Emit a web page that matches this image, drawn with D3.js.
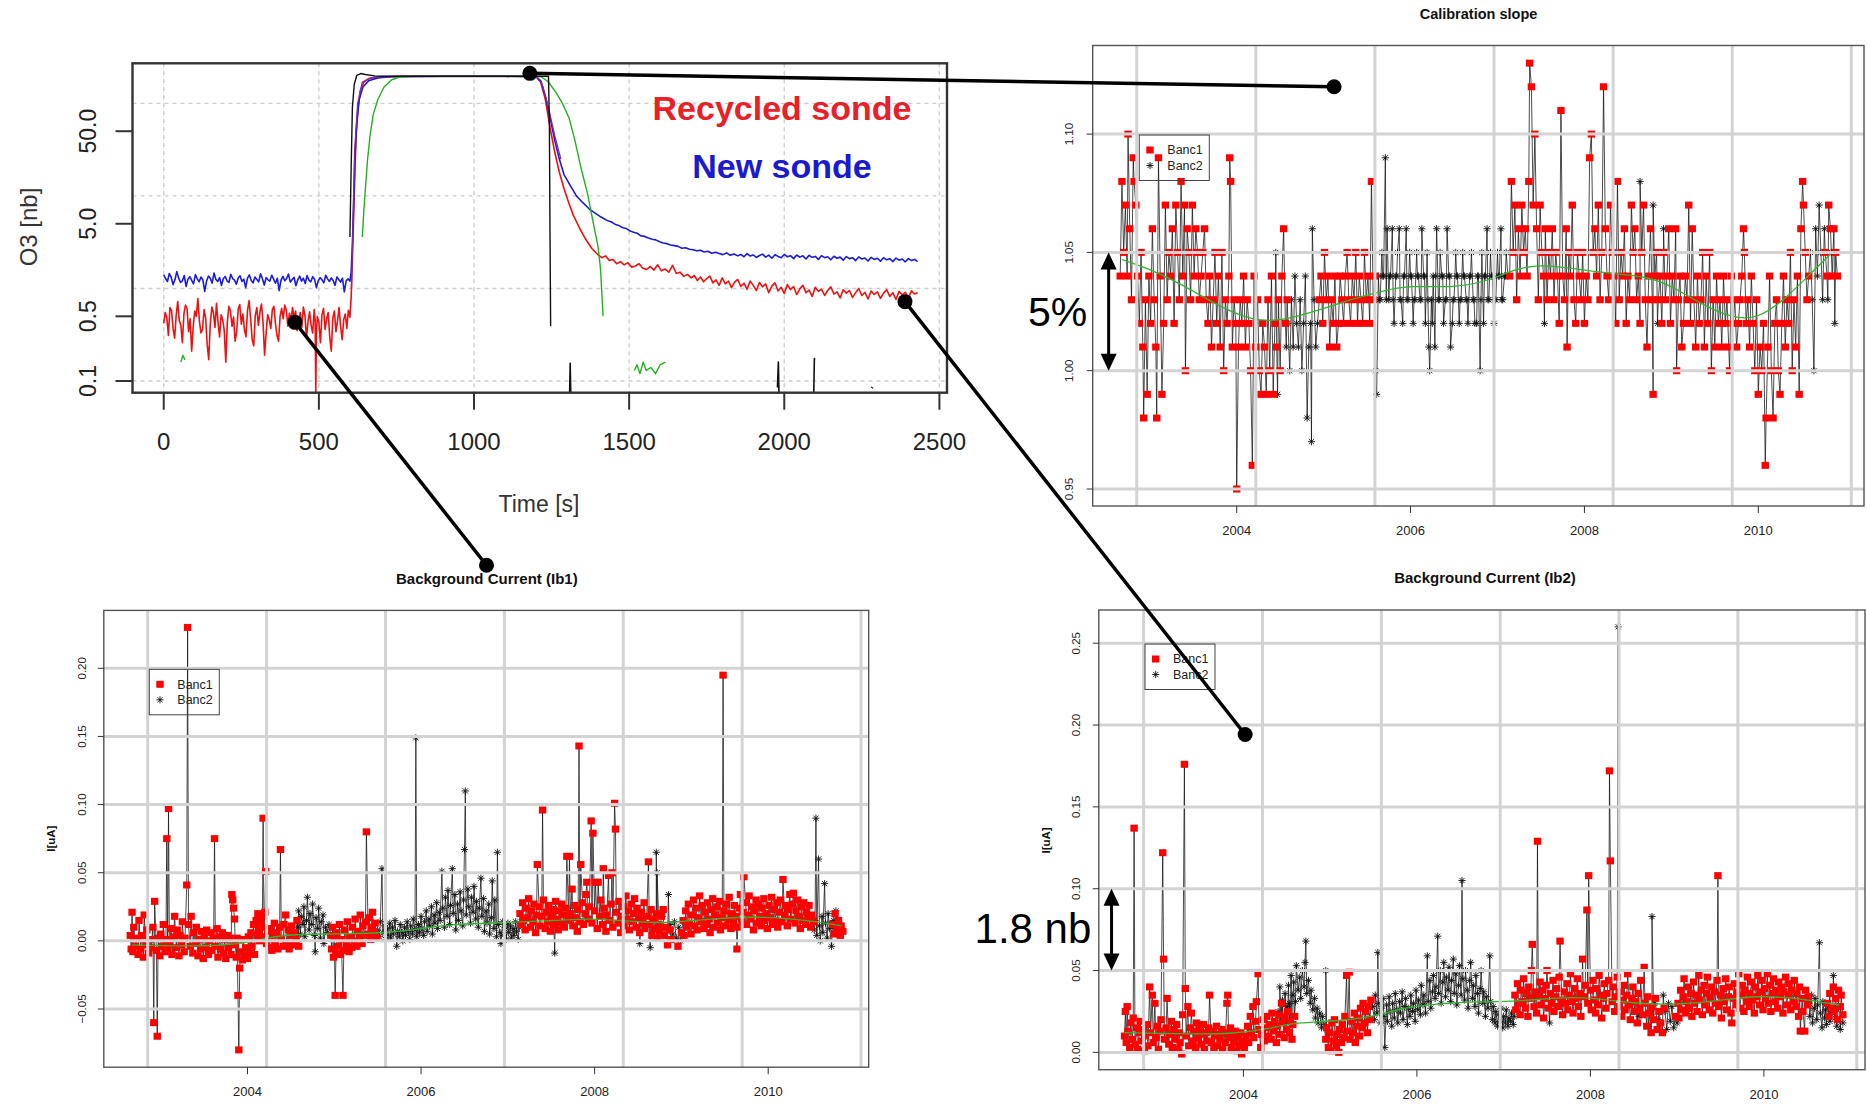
<!DOCTYPE html>
<html><head><meta charset="utf-8">
<script src="https://cdnjs.cloudflare.com/ajax/libs/d3/7.8.5/d3.min.js"></script>
<style>
body{margin:0;background:#fff}
svg{display:block}
text{font-family:"Liberation Sans",Arial,sans-serif}
</style></head>
<body><svg id="c" width="1867" height="1113"></svg>
<script>
// ---------------- DATA ----------------
// Top-left: ozone response test, time [s] vs O3 [nb]
const timeTicks = [0, 500, 1000, 1500, 2000, 2500];
const timeTickLabels = ["0", "500", "1000", "1500", "2000", "2500"];
const o3Ticks = [0.1, 0.5, 5, 50];
const o3TickLabels = ["0.1", "0.5", "5.0", "50.0"];
const o3Grid = [0.1, 1, 10, 100];

const recycledSonde = [
[0,0.42],[5,0.55],[10,0.48],[15,0.31],[20,0.62],[25,0.58],[30,0.37],[35,0.29],[40,0.51],[45,0.72],[50,0.45],[55,0.40],
[60,0.26],[65,0.53],[70,0.66],[75,0.61],[80,0.34],[85,0.47],[90,0.21],[95,0.39],[100,0.57],[105,0.50],[110,0.78],[115,0.44],
[120,0.33],[125,0.36],[130,0.59],[135,0.48],[140,0.25],[145,0.17],[150,0.41],[155,0.63],[160,0.55],[165,0.38],[170,0.69],
[175,0.43],[180,0.30],[185,0.52],[190,0.46],[195,0.35],[200,0.16],[205,0.44],[210,0.64],[215,0.57],[220,0.39],[225,0.49],
[230,0.27],[235,0.34],[240,0.60],[245,0.67],[250,0.41],[255,0.53],[260,0.36],[265,0.30],[270,0.58],[275,0.74],[280,0.47],
[285,0.28],[290,0.24],[295,0.51],[300,0.62],[305,0.40],[310,0.55],[315,0.68],[320,0.43],[325,0.19],[330,0.33],[335,0.52],
[340,0.46],[345,0.37],[350,0.59],[355,0.64],[360,0.42],[365,0.31],[370,0.27],[375,0.50],[380,0.61],[385,0.47],[390,0.66],
[395,0.58],[400,0.39],[405,0.54],[410,0.45],[415,0.62],[420,0.49],[425,0.57],[430,0.35],[435,0.42],[440,0.55],[445,0.38],
[450,0.63],[455,0.51],[460,0.29],[465,0.44],[470,0.56],[475,0.40],[480,0.33],[485,0.59],[488,0.45],[490,0.07],[492,0.32],
[495,0.50],[500,0.43],[505,0.26],[510,0.52],[515,0.61],[520,0.36],[525,0.47],[530,0.55],[535,0.30],[540,0.21],[545,0.48],
[550,0.57],[555,0.34],[560,0.44],[565,0.62],[570,0.39],[575,0.28],[580,0.46],[585,0.53],[590,0.37],[595,0.58],[600,0.49],
[604,0.8],[608,2.0],[612,6.0],[616,18],[620,45],[626,90],[634,140],[645,170],[660,185],[690,192],[760,196],[900,196],
[1100,196],[1200,195],[1215,170],[1230,110],[1245,55],[1260,30],[1275,18],[1290,12],[1305,8.5],[1320,6.2],[1340,4.5],
[1360,3.4],[1380,2.7],[1400,2.3],[1412,2.15],[1424,2.25],[1436,2.0],[1448,2.05],[1460,1.85],[1472,1.95],[1484,1.8],
[1496,1.9],[1508,1.7],[1520,1.75],[1532,1.85],[1544,1.65],[1556,1.6],[1568,1.72],[1580,1.58],[1592,1.8],[1604,1.55],
[1616,1.62],[1628,1.5],[1640,1.78],[1652,1.45],[1664,1.5],[1676,1.35],[1688,1.42],[1700,1.3],[1710,1.38],[1720,1.22],
[1730,1.33],[1740,1.18],[1750,1.28],[1760,1.36],[1770,1.15],[1780,1.24],[1790,1.08],[1800,1.3],[1810,1.12],[1820,1.2],
[1830,1.02],[1840,1.17],[1850,1.25],[1860,1.05],[1870,1.14],[1880,0.98],[1890,1.2],[1900,1.08],[1910,0.95],[1920,1.16],
[1930,1.04],[1940,1.12],[1950,0.9],[1960,1.06],[1970,1.15],[1980,0.94],[1990,1.03],[2000,0.88],[2010,1.1],[2020,0.97],
[2030,1.05],[2040,0.86],[2050,0.99],[2060,1.08],[2070,0.9],[2080,0.96],[2090,0.82],[2100,1.03],[2110,0.93],[2120,0.98],
[2130,0.84],[2140,0.95],[2150,1.04],[2160,0.87],[2170,0.92],[2180,0.79],[2190,0.97],[2200,0.89],[2210,0.95],[2220,0.8],
[2230,0.9],[2240,1.0],[2250,0.84],[2260,0.91],[2270,0.77],[2280,0.94],[2290,0.86],[2300,0.92],[2310,0.78],[2320,0.89],
[2330,0.97],[2340,0.82],[2350,0.9],[2360,0.76],[2370,0.93],[2380,0.85],[2390,0.91],[2400,0.79],[2410,0.94],[2420,0.87],[2430,0.9]];

const newSonde = [
[0,1.40],[6,1.28],[12,1.19],[18,1.45],[24,1.32],[30,1.10],[36,1.24],[42,1.52],[48,1.30],[54,1.16],[60,1.21],[66,1.38],
[72,1.05],[78,1.26],[84,1.34],[90,1.22],[96,1.12],[102,1.41],[108,1.27],[114,1.18],[120,1.33],[126,1.24],[132,0.93],
[138,1.20],[144,1.36],[150,1.29],[156,1.14],[162,1.47],[168,1.25],[174,1.19],[180,1.31],[186,1.08],[192,1.27],[198,1.35],
[204,1.21],[210,1.16],[216,1.42],[222,1.28],[228,1.23],[234,1.11],[240,1.30],[246,1.37],[252,1.19],[258,1.26],[264,1.02],
[270,1.29],[276,1.40],[282,1.22],[288,1.15],[294,1.33],[300,1.25],[306,1.18],[312,1.44],[318,1.27],[324,1.09],[330,1.31],
[336,1.24],[342,1.20],[348,1.39],[354,1.26],[360,1.14],[366,1.29],[372,0.95],[378,1.23],[384,1.35],[390,1.21],[396,1.28],
[402,1.43],[408,1.17],[414,1.25],[420,1.32],[426,1.07],[432,1.24],[438,1.36],[444,1.20],[450,1.29],[456,1.13],[462,1.38],
[468,1.23],[474,1.18],[480,1.34],[486,1.26],[492,1.02],[498,1.21],[504,1.31],[510,1.24],[516,1.15],[522,1.39],[528,1.27],
[534,1.19],[540,1.30],[546,1.22],[552,1.08],[558,1.33],[564,1.25],[570,1.17],[576,1.29],[582,0.92],[588,1.21],[594,1.27],
[600,1.20],[604,1.5],[608,3.0],[612,8.0],[616,25],[622,60],[630,110],[642,150],[660,175],[690,188],[730,194],[900,196],
[1100,196],[1200,195],[1215,175],[1230,120],[1245,70],[1260,40],[1275,25],[1290,17],[1310,13],[1330,10],[1350,8.5],
[1370,7.3],[1382,6.8],[1394,6.4],[1406,6.0],[1418,5.7],[1430,5.4],[1442,5.25],[1454,4.95],[1466,4.8],[1478,4.55],
[1490,4.45],[1502,4.2],[1514,4.05],[1526,3.95],[1538,3.7],[1550,3.65],[1562,3.5],[1574,3.4],[1586,3.35],[1598,3.2],
[1610,3.1],[1622,3.05],[1634,2.95],[1646,2.9],[1658,2.85],[1670,2.72],[1682,2.75],[1694,2.65],[1706,2.62],[1718,2.55],
[1730,2.58],[1742,2.48],[1754,2.52],[1766,2.4],[1778,2.46],[1790,2.38],[1802,2.32],[1814,2.42],[1826,2.28],[1838,2.36],
[1850,2.25],[1860,2.33],[1870,2.2],[1880,2.38],[1890,2.24],[1900,2.3],[1910,2.16],[1920,2.27],[1930,2.35],[1940,2.18],
[1950,2.29],[1960,2.12],[1970,2.31],[1980,2.22],[1990,2.15],[2000,2.33],[2010,2.2],[2020,2.26],[2030,2.1],[2040,2.3],
[2050,2.18],[2060,2.25],[2070,2.08],[2080,2.28],[2090,2.17],[2100,2.22],[2110,2.06],[2120,2.26],[2130,2.15],[2140,2.2],
[2150,2.04],[2160,2.23],[2170,2.12],[2180,2.18],[2190,2.02],[2200,2.21],[2210,2.1],[2220,2.15],[2230,2.0],[2240,2.19],
[2250,2.08],[2260,2.13],[2270,1.98],[2280,2.17],[2290,2.06],[2300,2.12],[2310,1.97],[2320,2.15],[2330,2.04],[2340,2.1],
[2350,1.95],[2360,2.13],[2370,2.02],[2380,2.08],[2390,1.94],[2400,2.1],[2410,2.0],[2420,2.06],[2430,1.95]];

const purpleRun = [[605,1.0],[610,5],[615,30],[625,100],[640,170],[670,190],[700,195],[1200,195],[1220,160],[1240,90],[1260,45],[1280,25]];
const greenRun = [[640,3.6],[645,7],[650,12],[657,25],[665,45],[675,75],[690,110],[710,150],[735,180],[760,192],[800,196],
[1100,196],[1215,195],[1240,170],[1265,130],[1285,100],[1306,70],[1325,40],[1345,20],[1366,10.5],[1385,5],[1400,2.8],[1408,1.6],[1416,0.5]];
const greenBits = [
  [[55,0.16],[62,0.19],[68,0.17]],
  [[1517,0.13],[1525,0.15],[1535,0.12],[1545,0.16],[1555,0.13],[1570,0.14],[1585,0.12],[1600,0.15],[1617,0.16]]
];
const blackRun = [[600,3.6],[604,20],[608,90],[614,160],[622,200],[635,210],[650,205],[680,198],[720,196],[1240,196],[1243,60],[1245,3.6],[1247,0.39]];
const blackBits = [
  [[1308,0.07],[1310,0.155],[1312,0.07]],
  [[1978,0.085],[1981,0.16],[1983,0.07]],
  [[2095,0.07],[2097,0.175],[2099,0.17]],
  [[2282,0.084],[2284,0.086]]
];

// Shared time axis for the three station plots
const yearTicks = [2004, 2006, 2008, 2010];
const yearTickLabels = ["2004", "2006", "2008", "2010"];
const gridYears = [2002.85, 2004.22, 2005.59, 2006.96, 2008.33, 2009.70, 2011.07];

// Calibration slope
const calibTicks = [0.95, 1.00, 1.05, 1.10];
const calibTickLabels = ["0.95", "1.00", "1.05", "1.10"];
const calibBanc1 = [
[2002.66,1.04],[2002.68,1.08],[2002.70,1.05],[2002.72,1.07],[2002.74,1.04],[2002.75,1.10],[2002.77,1.06],[2002.79,1.03],
[2002.81,1.09],[2002.82,1.08],[2002.84,1.07],[2002.86,1.04],[2002.88,1.02],[2002.90,1.05],[2002.92,1.01],[2002.93,0.98],
[2002.95,1.03],[2002.97,0.99],[2002.99,1.04],[2003.01,1.02],[2003.03,1.06],[2003.05,1.03],[2003.07,1.01],[2003.08,0.98],
[2003.10,1.09],[2003.12,1.04],[2003.14,0.99],[2003.16,1.02],[2003.18,1.07],[2003.20,1.03],[2003.22,1.05],[2003.24,1.04],
[2003.26,1.06],[2003.28,1.02],[2003.30,1.07],[2003.32,1.05],[2003.34,1.03],[2003.36,1.08],[2003.38,1.04],[2003.40,1.07],
[2003.41,1.00],[2003.43,1.06],[2003.45,1.05],[2003.47,1.03],[2003.49,1.07],[2003.51,1.04],[2003.53,1.06],[2003.55,1.05],
[2003.57,1.03],[2003.59,1.04],[2003.61,1.05],[2003.63,1.06],[2003.65,1.03],[2003.67,1.02],[2003.69,1.04],[2003.71,1.01],
[2003.73,1.03],[2003.75,1.05],[2003.77,1.02],[2003.79,1.04],[2003.81,1.01],[2003.83,1.05],[2003.85,1.00],[2003.87,1.03],
[2003.89,1.02],[2003.91,1.04],[2003.92,1.09],[2003.93,1.08],[2003.95,1.01],[2003.97,1.03],[2003.99,1.02],[2004.00,0.95],
[2004.02,1.01],[2004.04,1.03],[2004.06,1.02],[2004.08,1.04],[2004.10,1.01],[2004.12,1.03],[2004.14,1.02],[2004.16,1.00],
[2004.18,0.96],[2004.20,1.04],[2004.22,1.01],[2004.24,1.03],[2004.26,1.00],[2004.28,0.99],[2004.30,1.02],[2004.32,1.01],
[2004.34,0.99],[2004.36,1.03],[2004.38,1.00],[2004.40,1.04],[2004.42,0.99],[2004.44,1.02],[2004.46,1.01],[2004.48,1.03],
[2004.50,1.00],[2004.52,1.04],[2004.54,1.06],[2004.56,1.02],[2004.58,1.03],
[2004.95,1.03],[2004.97,1.04],[2004.99,1.02],[2005.01,1.05],[2005.03,1.03],[2005.05,1.04],[2005.07,1.01],[2005.09,1.03],
[2005.11,1.02],[2005.13,1.04],[2005.15,1.01],[2005.17,1.02],[2005.19,1.04],[2005.21,1.03],[2005.23,1.02],[2005.25,1.04],
[2005.27,1.05],[2005.29,1.03],[2005.31,1.02],[2005.33,1.04],[2005.35,1.03],[2005.37,1.05],[2005.39,1.02],[2005.41,1.04],
[2005.43,1.03],[2005.45,1.02],[2005.47,1.05],[2005.49,1.03],[2005.51,1.04],[2005.53,1.02],[2005.55,1.08],[2005.57,1.03],
[2005.59,1.04],
[2007.14,1.04],[2007.16,1.08],[2007.18,1.05],[2007.20,1.07],[2007.22,1.03],[2007.24,1.06],[2007.26,1.04],[2007.28,1.07],
[2007.30,1.05],[2007.32,1.06],[2007.34,1.04],[2007.36,1.08],[2007.37,1.13],[2007.39,1.12],[2007.41,1.07],[2007.43,1.10],
[2007.45,1.06],[2007.47,1.03],[2007.49,1.07],[2007.51,1.05],[2007.53,1.04],[2007.55,1.06],[2007.57,1.03],[2007.59,1.05],
[2007.61,1.04],[2007.63,1.06],[2007.65,1.03],[2007.67,1.05],[2007.69,1.04],[2007.71,1.02],[2007.73,1.11],[2007.75,1.04],
[2007.77,1.03],[2007.79,1.06],[2007.80,1.01],[2007.82,1.05],[2007.84,1.04],[2007.86,1.07],[2007.88,1.03],[2007.90,1.02],
[2007.92,1.05],[2007.94,1.04],[2007.96,1.03],[2007.98,1.05],[2008.00,1.02],[2008.02,1.04],[2008.04,1.03],[2008.06,1.09],
[2008.08,1.10],[2008.10,1.05],[2008.12,1.06],[2008.14,1.04],[2008.16,1.07],[2008.18,1.03],[2008.20,1.05],[2008.22,1.12],
[2008.24,1.06],[2008.26,1.04],[2008.28,1.03],[2008.30,1.07],[2008.32,1.05],[2008.34,1.04],[2008.36,1.02],[2008.38,1.08],
[2008.40,1.03],[2008.42,1.05],[2008.44,1.04],[2008.46,1.06],[2008.48,1.02],[2008.50,1.04],[2008.52,1.03],[2008.54,1.07],
[2008.56,1.05],[2008.58,1.06],[2008.60,1.03],[2008.62,1.04],[2008.64,1.02],[2008.66,1.05],[2008.68,1.07],[2008.70,1.03],
[2008.72,1.01],[2008.74,1.04],[2008.76,1.06],[2008.78,1.03],[2008.79,0.99],[2008.81,1.04],[2008.83,1.05],[2008.85,1.03],
[2008.87,1.04],[2008.89,1.02],[2008.91,1.05],[2008.93,1.03],[2008.95,1.04],[2008.97,1.06],[2008.99,1.02],[2009.01,1.04],
[2009.03,1.03],[2009.05,1.06],[2009.06,1.00],[2009.08,1.03],[2009.10,1.04],[2009.12,1.01],[2009.14,1.02],[2009.16,1.04],
[2009.18,1.03],[2009.20,1.07],[2009.22,1.02],[2009.24,1.06],[2009.26,1.03],[2009.28,1.01],[2009.30,1.04],[2009.32,1.02],
[2009.34,1.03],[2009.36,1.05],[2009.38,1.01],[2009.40,1.04],[2009.42,1.02],[2009.44,1.05],[2009.46,1.00],[2009.48,1.03],
[2009.50,1.01],[2009.52,1.04],[2009.54,1.02],[2009.56,1.03],[2009.58,1.01],[2009.60,1.04],[2009.62,1.02],[2009.64,1.03],
[2009.66,1.01],[2009.67,1.00],[2009.69,1.04],[2009.71,1.02],[2009.73,1.03],[2009.75,1.01],[2009.77,1.02],[2009.79,1.03],
[2009.81,1.04],[2009.83,1.06],[2009.84,1.05],[2009.86,1.02],[2009.88,1.03],[2009.90,1.01],[2009.92,1.04],[2009.94,1.02],
[2009.96,1.00],[2009.98,1.03],[2010.00,0.99],[2010.02,1.01],[2010.04,1.00],[2010.06,1.02],[2010.08,0.96],[2010.09,0.98],
[2010.11,1.01],[2010.13,1.04],[2010.15,1.00],[2010.17,0.98],[2010.19,1.02],[2010.21,1.03],[2010.23,1.00],[2010.25,0.99],
[2010.27,1.02],[2010.29,1.04],[2010.31,1.01],[2010.33,1.03],[2010.35,1.02],[2010.37,1.05],[2010.39,1.00],[2010.41,1.03],
[2010.43,1.01],[2010.45,1.04],[2010.47,0.99],[2010.49,1.06],[2010.51,1.08],[2010.52,1.07],[2010.54,1.05],[2010.56,1.03],
[2010.58,1.04],[2010.77,1.05],[2010.79,1.04],[2010.81,1.07],[2010.83,1.06],[2010.85,1.04],[2010.87,1.06],[2010.89,1.05],
[2010.91,1.04]];
const calibBanc2 = [
[2004.45,1.05],[2004.47,0.99],
[2004.57,1.01],[2004.59,1.02],[2004.61,1.00],[2004.63,1.03],[2004.65,1.01],[2004.67,1.04],[2004.69,1.02],[2004.71,1.01],
[2004.73,1.03],[2004.75,1.00],[2004.77,1.02],[2004.79,1.04],[2004.81,0.98],[2004.83,1.01],[2004.85,1.02],[2004.86,0.97],
[2004.87,1.06],[2004.89,1.03],[2004.91,1.01],[2004.93,1.02],
[2005.60,1.00],[2005.61,0.99],[2005.63,1.04],[2005.64,1.03],[2005.65,1.03],[2005.67,1.05],[2005.68,1.04],[2005.69,1.04],
[2005.71,1.09],[2005.72,1.03],[2005.73,1.06],[2005.75,1.03],[2005.76,1.04],[2005.77,1.04],[2005.79,1.06],[2005.80,1.03],
[2005.81,1.02],[2005.83,1.04],[2005.84,1.04],[2005.85,1.05],[2005.87,1.06],[2005.88,1.03],[2005.89,1.03],[2005.91,1.02],
[2005.92,1.04],[2005.93,1.04],[2005.95,1.06],[2005.96,1.03],[2005.97,1.03],[2005.99,1.05],[2006.00,1.04],[2006.01,1.04],
[2006.03,1.02],[2006.04,1.03],[2006.05,1.03],[2006.07,1.05],[2006.08,1.04],[2006.09,1.04],[2006.11,1.03],[2006.12,1.03],
[2006.13,1.06],[2006.15,1.04],[2006.16,1.04],[2006.17,1.02],[2006.19,1.05],[2006.20,1.03],[2006.21,1.01],[2006.22,1.00],
[2006.24,1.03],[2006.25,1.02],[2006.26,1.04],[2006.28,1.01],[2006.29,1.04],[2006.30,1.06],[2006.32,1.03],[2006.33,1.03],
[2006.34,1.05],[2006.36,1.04],[2006.37,1.04],[2006.38,1.02],[2006.40,1.03],[2006.41,1.03],[2006.42,1.06],[2006.44,1.04],
[2006.45,1.04],[2006.46,1.01],[2006.48,1.02],[2006.49,1.03],[2006.50,1.03],[2006.52,1.05],[2006.53,1.04],[2006.54,1.04],
[2006.56,1.02],[2006.57,1.03],[2006.58,1.03],[2006.60,1.05],[2006.61,1.04],[2006.62,1.04],[2006.64,1.03],[2006.65,1.03],
[2006.66,1.02],[2006.68,1.04],[2006.69,1.04],[2006.70,1.05],[2006.72,1.03],[2006.73,1.03],[2006.74,1.02],[2006.76,1.02],
[2006.77,1.04],[2006.78,1.04],[2006.80,1.00],[2006.81,1.03],[2006.82,1.05],[2006.84,1.02],[2006.85,1.04],[2006.86,1.04],
[2006.88,1.06],[2006.89,1.03],[2006.90,1.03],[2006.92,1.05],[2006.93,1.04],[2006.94,1.04],[2006.96,1.02],[2006.97,1.03],
[2006.98,1.03],[2007.00,1.05],[2007.01,1.04],[2007.02,1.04],[2007.04,1.06],[2007.05,1.03],[2007.06,1.03],[2007.08,1.04],
[2007.09,1.04],[2007.10,1.05],[2007.12,1.04],
[2007.54,1.02],[2008.64,1.08],[2008.79,1.07],[2008.84,1.02],[2008.91,1.06],
[2010.60,1.05],[2010.62,1.03],[2010.64,1.00],[2010.66,1.06],[2010.68,1.04],[2010.70,1.07],[2010.72,1.05],[2010.74,1.03],
[2010.76,1.06],[2010.80,1.03],[2010.84,1.05],[2010.88,1.02]];
const calibSmooth = [[2002.68,1.047],[2003.0,1.043],[2003.4,1.036],[2003.8,1.027],[2004.2,1.021],[2004.5,1.021],[2004.9,1.025],
[2005.3,1.030],[2005.7,1.034],[2006.0,1.036],[2006.5,1.035],[2006.9,1.038],[2007.2,1.043],[2007.5,1.045],[2007.9,1.043],
[2008.3,1.041],[2008.7,1.040],[2009.0,1.036],[2009.3,1.029],[2009.7,1.022],[2010.0,1.022],[2010.3,1.030],[2010.6,1.041],[2010.85,1.050]];

// Background current Ib1
const ib1Ticks = [-0.05, 0, 0.05, 0.10, 0.15, 0.20];
const ib1TickLabels = ["\u22120.05", "0.00", "0.05", "0.10", "0.15", "0.20"];
const ib1Banc1 = [
[2002.65,0.004],[2002.66,-0.006],[2002.67,0.021],[2002.68,-0.008],[2002.69,0.010],[2002.71,-0.004],[2002.72,0.002],[2002.74,-0.010],
[2002.75,0.015],[2002.77,-0.006],[2002.78,0.004],[2002.80,-0.012],[2002.81,0.019],[2002.83,-0.003],[2002.84,0.008],[2002.86,-0.009],
[2002.88,0.001],[2002.89,-0.005],[2002.91,0.010],[2002.92,-0.060],[2002.93,0.029],[2002.95,-0.007],[2002.96,-0.070],[2002.97,0.002],
[2002.99,-0.011],[2003.00,0.005],[2003.02,-0.004],[2003.03,0.012],[2003.05,-0.008],[2003.06,0.001],[2003.07,0.075],[2003.08,-0.006],
[2003.09,0.097],[2003.10,-0.002],[2003.12,0.009],[2003.13,-0.010],[2003.15,0.003],[2003.16,0.018],[2003.18,-0.005],[2003.19,0.008],
[2003.21,-0.011],[2003.22,0.004],[2003.24,-0.003],[2003.25,0.014],[2003.27,-0.008],[2003.28,0.002],[2003.30,0.041],[2003.31,0.230],
[2003.32,0.012],[2003.34,-0.004],[2003.35,0.018],[2003.37,-0.009],[2003.38,0.006],[2003.40,-0.002],[2003.41,0.010],[2003.43,-0.011],
[2003.44,0.001],[2003.46,-0.006],[2003.47,0.007],[2003.49,-0.013],[2003.50,0.003],[2003.52,-0.005],[2003.53,0.008],[2003.55,-0.010],
[2003.56,0.000],[2003.58,0.006],[2003.59,-0.007],[2003.61,0.002],[2003.62,0.075],[2003.63,-0.004],[2003.65,0.009],[2003.66,-0.012],
[2003.68,0.003],[2003.69,-0.006],[2003.71,0.006],[2003.72,-0.009],[2003.74,0.001],[2003.75,-0.013],[2003.77,0.004],[2003.78,-0.005],
[2003.80,0.002],[2003.81,-0.010],[2003.82,0.034],[2003.83,0.030],[2003.84,0.024],[2003.85,0.016],[2003.86,-0.003],[2003.87,-0.012],
[2003.88,0.002],[2003.89,-0.040],[2003.90,-0.080],[2003.91,-0.020],[2003.92,-0.008],[2003.94,-0.014],[2003.95,0.001],[2003.97,-0.011],
[2003.98,-0.005],[2004.00,-0.013],[2004.01,0.003],[2004.03,-0.009],[2004.04,0.006],[2004.05,-0.004],[2004.07,0.012],[2004.08,-0.010],
[2004.10,0.015],[2004.11,0.004],[2004.12,0.020],[2004.13,0.008],[2004.14,0.000],[2004.15,0.013],[2004.16,0.018],[2004.17,0.003],
[2004.18,0.090],[2004.19,0.010],[2004.20,0.021],[2004.21,0.051],[2004.22,-0.002],[2004.23,0.007],[2004.25,-0.005],[2004.26,0.009],
[2004.28,-0.007],[2004.29,0.004],[2004.31,0.013],[2004.32,-0.003],[2004.34,0.006],[2004.35,-0.006],[2004.37,0.010],[2004.38,0.067],
[2004.39,0.002],[2004.41,-0.004],[2004.42,0.012],[2004.44,0.019],[2004.45,-0.002],[2004.47,0.008],[2004.48,-0.006],[2004.50,0.004],
[2004.51,0.011],[2004.53,-0.003],[2004.54,0.006],[2004.56,0.001],[2004.57,0.015],[2004.59,-0.004],
[2004.96,0.004],[2004.97,-0.006],[2004.98,0.010],[2004.99,-0.012],[2005.00,0.002],[2005.01,-0.040],[2005.02,-0.009],[2005.03,0.006],
[2005.05,-0.004],[2005.06,0.012],[2005.07,-0.010],[2005.08,0.001],[2005.10,-0.040],[2005.11,-0.007],[2005.12,0.008],[2005.14,-0.003],
[2005.15,0.014],[2005.17,-0.008],[2005.18,0.003],[2005.20,-0.005],[2005.21,0.010],[2005.23,0.000],[2005.24,0.016],[2005.26,-0.004],
[2005.27,0.007],[2005.29,0.002],[2005.30,0.019],[2005.32,-0.002],[2005.33,0.011],[2005.35,0.004],[2005.36,0.014],[2005.37,0.080],
[2005.39,0.005],[2005.40,0.017],[2005.42,0.001],[2005.43,0.010],[2005.44,0.021],[2005.46,0.006],[2005.47,0.013],[2005.49,0.002],
[2007.14,0.020],[2007.15,0.012],[2007.17,0.028],[2007.18,0.015],[2007.20,0.008],[2007.21,0.024],[2007.23,0.017],[2007.24,0.031],
[2007.26,0.010],[2007.27,0.022],[2007.29,0.014],[2007.30,0.027],[2007.32,0.006],[2007.33,0.019],[2007.34,0.056],[2007.36,0.025],
[2007.37,0.011],[2007.39,0.018],[2007.40,0.096],[2007.41,0.030],[2007.43,0.009],[2007.44,0.021],[2007.46,0.014],[2007.47,0.026],
[2007.49,0.007],[2007.50,0.018],[2007.52,0.023],[2007.53,0.012],[2007.55,0.029],[2007.56,0.016],[2007.58,0.008],[2007.59,0.022],
[2007.61,0.013],[2007.62,0.027],[2007.64,0.019],[2007.65,0.010],[2007.67,0.024],[2007.68,0.062],[2007.70,0.015],[2007.71,0.062],
[2007.72,0.020],[2007.74,0.038],[2007.75,0.011],[2007.77,0.026],[2007.78,0.017],[2007.80,0.007],[2007.81,0.023],[2007.82,0.143],
[2007.83,0.014],[2007.84,0.056],[2007.86,0.028],[2007.87,0.012],[2007.89,0.020],[2007.90,0.034],[2007.91,0.043],[2007.93,0.016],
[2007.94,0.025],[2007.96,0.088],[2007.97,0.013],[2007.98,0.079],[2008.00,0.022],[2008.01,0.043],[2008.03,0.009],[2008.04,0.043],
[2008.06,0.018],[2008.07,0.030],[2008.09,0.012],[2008.10,0.053],[2008.11,0.024],[2008.13,0.007],[2008.14,0.019],[2008.16,0.048],
[2008.17,0.015],[2008.19,0.027],[2008.20,0.050],[2008.21,0.010],[2008.23,0.101],[2008.24,0.082],[2008.25,0.021],[2008.27,0.013],
[2008.28,0.029],[2008.30,0.006],[2008.31,0.018],[2008.33,0.025],[2008.34,0.011],[2008.36,0.033],[2008.37,0.016],[2008.39,0.022],
[2008.40,0.008],[2008.42,0.027],[2008.43,0.014],[2008.45,0.020],[2008.46,0.031],[2008.48,0.010],[2008.49,0.024],[2008.51,0.017],
[2008.52,0.006],[2008.54,0.021],[2008.55,0.013],[2008.57,0.028],[2008.58,0.009],[2008.60,0.018],[2008.62,0.058],[2008.63,0.012],
[2008.65,0.023],[2008.66,0.004],[2008.68,0.016],[2008.69,0.009],[2008.71,0.020],[2008.72,0.002],[2008.74,0.012],[2008.75,0.007],
[2008.77,0.018],[2008.79,0.023],[2008.80,0.004],[2008.82,0.010],[2008.84,-0.003],[2008.86,0.008],[2008.88,0.001],
[2008.96,-0.004],[2009.00,0.006],[2009.02,0.015],[2009.03,0.004],[2009.05,0.022],[2009.06,0.010],[2009.08,0.027],[2009.09,0.013],
[2009.11,0.005],[2009.12,0.019],[2009.14,0.030],[2009.15,0.011],[2009.17,0.024],[2009.18,0.008],[2009.20,0.017],[2009.21,0.033],
[2009.23,0.014],[2009.24,0.026],[2009.26,0.009],[2009.27,0.021],[2009.29,0.012],[2009.30,0.028],[2009.32,0.016],[2009.33,0.006],
[2009.35,0.023],[2009.36,0.031],[2009.38,0.010],[2009.39,0.019],[2009.41,0.025],[2009.42,0.013],[2009.44,0.029],[2009.45,0.008],
[2009.47,0.017],[2009.48,0.195],[2009.49,0.022],[2009.51,0.011],[2009.52,0.027],[2009.54,0.015],[2009.55,0.032],[2009.57,0.009],
[2009.58,0.020],[2009.60,0.013],[2009.61,0.026],[2009.63,0.018],[2009.64,-0.006],[2009.65,0.010],[2009.67,0.024],[2009.68,0.034],
[2009.70,0.014],[2009.71,0.021],[2009.72,0.047],[2009.74,0.028],[2009.75,0.012],[2009.77,0.019],[2009.78,0.033],[2009.80,0.016],
[2009.81,0.025],[2009.83,0.008],[2009.84,0.022],[2009.86,0.030],[2009.87,0.013],[2009.89,0.027],[2009.90,0.018],[2009.92,0.011],
[2009.93,0.024],[2009.95,0.031],[2009.96,0.015],[2009.98,0.020],[2009.99,0.009],[2010.01,0.026],[2010.02,0.017],[2010.04,0.032],
[2010.05,0.012],[2010.07,0.023],[2010.08,0.015],[2010.10,0.028],[2010.11,0.010],[2010.13,0.021],[2010.14,0.030],[2010.16,0.014],
[2010.17,0.045],[2010.19,0.019],[2010.20,0.026],[2010.22,0.011],[2010.23,0.023],[2010.25,0.034],[2010.26,0.016],[2010.28,0.027],
[2010.29,0.035],[2010.31,0.013],[2010.32,0.022],[2010.34,0.030],[2010.35,0.018],[2010.37,0.009],[2010.38,0.025],[2010.40,0.015],
[2010.41,0.028],[2010.43,0.012],[2010.44,0.021],[2010.46,0.017],[2010.47,0.026],[2010.49,0.010],[2010.50,0.019],[2010.52,0.014],
[2010.74,0.012],[2010.76,0.005],[2010.77,0.020],[2010.79,0.009],[2010.81,0.015],[2010.83,0.004],[2010.84,0.011],[2010.86,0.007]];
const ib1Banc2 = [
[2004.58,0.010],[2004.59,0.022],[2004.61,0.005],[2004.62,0.018],[2004.64,0.012],[2004.65,0.025],[2004.66,0.003],[2004.68,0.015],
[2004.69,0.032],[2004.71,0.008],[2004.72,0.020],[2004.74,0.012],[2004.75,0.027],[2004.77,0.004],[2004.78,-0.008],[2004.79,0.017],
[2004.81,0.009],[2004.82,0.024],[2004.84,0.002],[2004.85,0.014],[2004.87,0.019],[2004.88,-0.002],[2004.90,0.010],[2004.92,0.006],
[2004.94,0.012],
[2005.50,0.008],[2005.52,0.003],[2005.53,0.014],[2005.55,0.053],[2005.56,0.006],[2005.58,0.011],[2005.59,0.001],[2005.61,0.009],
[2005.62,0.004],[2005.64,0.013],[2005.65,0.002],[2005.67,0.010],[2005.68,0.005],[2005.70,0.015],[2005.72,-0.004],[2005.73,0.007],
[2005.75,0.003],[2005.76,0.012],[2005.78,0.006],[2005.79,0.000],[2005.81,0.010],[2005.82,0.004],[2005.84,0.014],[2005.85,0.007],
[2005.87,0.001],[2005.88,0.011],[2005.90,0.005],[2005.91,0.016],[2005.93,0.008],[2005.94,0.149],[2005.95,0.003],[2005.97,0.012],
[2005.98,0.006],[2006.00,0.018],[2006.01,0.009],[2006.03,0.004],[2006.04,0.014],[2006.06,0.022],[2006.07,0.007],[2006.09,0.016],
[2006.10,0.011],[2006.12,0.025],[2006.13,0.005],[2006.15,0.019],[2006.16,0.013],[2006.18,0.028],[2006.19,0.009],[2006.21,0.021],
[2006.22,0.015],[2006.24,0.051],[2006.25,0.024],[2006.27,0.010],[2006.28,0.032],[2006.30,0.018],[2006.31,0.037],[2006.33,0.012],
[2006.34,0.026],[2006.36,0.053],[2006.37,0.020],[2006.39,0.034],[2006.40,0.008],[2006.42,0.027],[2006.43,0.015],[2006.45,0.036],
[2006.46,0.022],[2006.48,0.011],[2006.49,0.030],[2006.50,0.067],[2006.51,0.110],[2006.52,0.019],[2006.54,0.038],[2006.55,0.025],
[2006.57,0.013],[2006.58,0.032],[2006.60,0.021],[2006.61,0.040],[2006.63,0.016],[2006.64,0.029],[2006.66,0.010],[2006.67,0.024],
[2006.69,0.046],[2006.70,0.018],[2006.72,0.031],[2006.73,0.007],[2006.75,0.022],[2006.76,0.013],[2006.78,0.027],[2006.79,0.005],
[2006.81,0.017],[2006.82,0.044],[2006.84,0.009],[2006.85,0.030],[2006.87,0.003],[2006.88,0.065],[2006.89,0.012],[2006.91,0.006],
[2006.92,-0.002],[2006.94,0.014],[2006.95,0.004],[2006.97,0.010],[2006.98,0.001],[2007.00,0.013],[2007.01,0.006],[2007.03,0.011],
[2007.04,0.002],[2007.06,0.009],[2007.07,0.004],[2007.09,0.014],[2007.10,0.007],[2007.12,0.001],[2007.13,0.010],
[2007.54,-0.009],[2008.52,-0.002],[2008.64,-0.005],[2008.71,0.065],[2008.72,0.050],[2008.78,0.018],[2008.85,0.034],[2008.87,0.012],
[2008.90,0.005],[2008.92,0.014],[2008.94,0.002],[2008.97,0.010],[2008.99,0.000],
[2010.53,0.008],[2010.54,0.015],[2010.55,0.090],[2010.56,0.004],[2010.58,0.060],[2010.59,0.011],[2010.60,0.000],[2010.62,0.018],
[2010.63,0.006],[2010.65,0.042],[2010.66,0.013],[2010.68,0.002],[2010.69,0.020],[2010.71,0.009],[2010.73,-0.004],[2010.75,0.015],
[2010.78,0.022],[2010.80,0.005],[2010.82,0.012],[2010.85,0.008]];
const ib1Smooth = [[2002.67,-0.003],[2003.0,-0.0035],[2003.5,-0.004],[2004.0,-0.002],[2004.25,0.003],[2004.6,0.005],[2005.03,0.005],
[2005.67,0.006],[2006.0,0.009],[2006.32,0.012],[2006.97,0.0135],[2007.61,0.015],[2007.94,0.0165],[2008.26,0.015],[2008.58,0.0135],
[2008.91,0.0135],[2009.42,0.0165],[2009.94,0.018],[2010.46,0.015],[2010.85,0.011]];

// Background current Ib2
const ib2Ticks = [0, 0.05, 0.10, 0.15, 0.20, 0.25];
const ib2TickLabels = ["0.00", "0.05", "0.10", "0.15", "0.20", "0.25"];
const ib2Banc1 = [
[2002.63,0.010],[2002.64,0.025],[2002.65,0.006],[2002.66,0.028],[2002.67,0.013],[2002.69,0.003],[2002.70,0.018],[2002.72,0.008],
[2002.73,0.021],[2002.74,0.137],[2002.75,0.005],[2002.77,0.015],[2002.78,0.002],[2002.80,0.012],[2002.81,0.019],[2002.83,0.007],
[2002.84,0.014],[2002.86,0.001],[2002.87,0.010],[2002.89,0.017],[2002.90,0.004],[2002.92,0.040],[2002.93,0.012],[2002.95,0.035],
[2002.96,0.006],[2002.98,0.030],[2002.99,0.009],[2003.01,0.016],[2003.02,0.002],[2003.04,0.013],[2003.05,0.020],[2003.07,0.122],
[2003.08,0.057],[2003.09,0.008],[2003.11,0.015],[2003.12,0.033],[2003.14,0.005],[2003.15,0.011],[2003.17,0.019],[2003.18,0.003],
[2003.20,0.014],[2003.21,0.008],[2003.23,0.017],[2003.24,0.002],[2003.26,0.012],[2003.27,0.006],[2003.29,-0.001],[2003.30,0.023],
[2003.32,0.176],[2003.33,0.039],[2003.34,0.010],[2003.36,0.028],[2003.37,0.004],[2003.39,0.015],[2003.40,0.024],[2003.42,0.007],
[2003.43,0.013],[2003.45,0.003],[2003.46,0.018],[2003.48,0.009],[2003.49,0.014],[2003.51,0.005],[2003.52,0.011],[2003.54,0.017],
[2003.55,0.002],[2003.57,0.012],[2003.58,0.007],[2003.60,0.015],[2003.61,0.035],[2003.63,0.006],[2003.64,0.013],[2003.66,0.003],
[2003.67,0.010],[2003.69,0.016],[2003.70,0.004],[2003.72,0.011],[2003.73,0.008],[2003.75,0.014],[2003.76,0.002],[2003.78,0.012],
[2003.79,0.006],[2003.81,0.030],[2003.82,0.035],[2003.83,0.009],[2003.85,0.015],[2003.86,0.003],[2003.88,0.011],[2003.89,0.006],
[2003.91,0.013],[2003.92,0.001],[2003.94,0.009],[2003.95,0.004],[2003.97,0.012],[2003.98,-0.001],[2004.00,0.007],[2004.01,0.003],
[2004.03,0.010],
[2004.05,0.016],[2004.06,0.006],[2004.08,0.022],[2004.09,0.012],[2004.11,0.028],[2004.12,0.009],[2004.14,0.019],[2004.15,0.031],
[2004.17,0.048],[2004.18,0.014],[2004.20,0.003],[2004.21,0.011],[2004.23,0.020],[2004.24,0.007],[2004.26,0.015],[2004.27,0.022],
[2004.29,0.010],[2004.30,0.017],[2004.32,0.008],[2004.33,0.024],[2004.35,0.013],[2004.36,0.019],[2004.38,0.006],[2004.39,0.016],
[2004.41,0.023],[2004.42,0.011],[2004.44,0.030],[2004.45,0.018],[2004.47,0.009],[2004.48,0.021],[2004.50,0.014],[2004.51,0.025],
[2004.53,0.012],[2004.54,0.019],[2004.56,0.008],[2004.57,0.017],[2004.59,0.022],
[2004.95,0.008],[2004.96,0.015],[2004.98,0.003],[2004.99,0.012],[2005.01,0.001],[2005.02,0.018],[2005.04,0.007],[2005.05,0.020],
[2005.07,0.004],[2005.08,0.011],[2005.10,0.000],[2005.11,0.014],[2005.13,0.006],[2005.14,0.017],[2005.16,0.009],[2005.17,0.022],
[2005.19,0.047],[2005.20,0.013],[2005.22,0.049],[2005.23,0.008],[2005.25,0.019],[2005.26,0.012],[2005.28,0.024],[2005.29,0.006],
[2005.31,0.016],[2005.32,0.021],[2005.34,0.010],[2005.35,0.027],[2005.37,0.015],[2005.38,0.030],[2005.40,0.018],[2005.41,0.025],
[2005.43,0.012],[2005.44,0.028],[2005.46,0.020],[2005.47,0.032],
[2007.13,0.035],[2007.14,0.026],[2007.16,0.042],[2007.17,0.030],[2007.19,0.023],[2007.20,0.038],[2007.22,0.031],[2007.23,0.045],
[2007.25,0.027],[2007.26,0.036],[2007.28,0.022],[2007.29,0.040],[2007.31,0.033],[2007.32,0.050],[2007.33,0.066],[2007.35,0.028],
[2007.36,0.037],[2007.38,0.024],[2007.39,0.129],[2007.40,0.034],[2007.42,0.043],[2007.43,0.029],[2007.45,0.038],[2007.46,0.021],
[2007.48,0.033],[2007.49,0.041],[2007.50,0.050],[2007.52,0.027],[2007.54,0.036],[2007.55,0.030],[2007.57,0.044],[2007.58,0.025],
[2007.60,0.034],[2007.61,0.039],[2007.63,0.028],[2007.64,0.046],[2007.65,0.068],[2007.67,0.032],[2007.68,0.023],[2007.70,0.037],
[2007.71,0.030],[2007.73,0.042],[2007.74,0.026],[2007.76,0.035],[2007.77,0.048],[2007.79,0.031],[2007.80,0.024],[2007.82,0.039],
[2007.83,0.033],[2007.85,0.045],[2007.86,0.028],[2007.88,0.036],[2007.89,0.022],[2007.91,0.057],[2007.92,0.034],[2007.94,0.041],
[2007.96,0.087],[2007.97,0.030],[2007.98,0.108],[2008.00,0.038],[2008.01,0.026],[2008.03,0.044],[2008.04,0.032],[2008.06,0.024],
[2008.07,0.039],[2008.09,0.029],[2008.10,0.047],[2008.12,0.035],[2008.13,0.021],[2008.15,0.033],[2008.16,0.042],[2008.18,0.027],
[2008.19,0.036],[2008.21,0.044],[2008.22,0.172],[2008.23,0.117],[2008.25,0.031],[2008.26,0.040],[2008.28,0.025],[2008.29,0.034],
[2008.31,0.046],[2008.33,0.028],[2008.34,0.037],[2008.36,0.022],[2008.37,0.032],[2008.39,0.041],[2008.40,0.026],[2008.42,0.035],
[2008.43,0.048],[2008.45,0.029],[2008.46,0.020],[2008.48,0.033],[2008.49,0.040],[2008.51,0.025],[2008.52,0.031],[2008.54,0.018],
[2008.55,0.036],[2008.57,0.027],[2008.58,0.044],[2008.60,0.023],[2008.62,0.052],[2008.63,0.030],[2008.65,0.016],[2008.66,0.034],
[2008.68,0.024],[2008.70,0.012],[2008.71,0.028],[2008.73,0.020],[2008.75,0.033],[2008.77,0.014],[2008.79,0.025],[2008.81,0.018],
[2008.83,0.012],[2008.85,0.027],
[2008.98,0.022],[2009.01,0.030],[2009.02,0.021],[2009.04,0.038],[2009.05,0.026],[2009.07,0.034],[2009.08,0.045],[2009.10,0.024],
[2009.11,0.031],[2009.13,0.040],[2009.14,0.027],[2009.16,0.036],[2009.17,0.022],[2009.19,0.043],[2009.20,0.030],[2009.22,0.035],
[2009.23,0.025],[2009.25,0.047],[2009.26,0.032],[2009.28,0.038],[2009.29,0.023],[2009.31,0.041],[2009.32,0.029],[2009.34,0.036],
[2009.35,0.046],[2009.37,0.026],[2009.38,0.033],[2009.40,0.040],[2009.41,0.024],[2009.43,0.037],[2009.44,0.030],[2009.46,0.044],
[2009.47,0.108],[2009.48,0.028],[2009.50,0.035],[2009.51,0.021],[2009.53,0.039],[2009.54,0.031],[2009.56,0.045],[2009.57,0.026],
[2009.59,0.034],[2009.60,0.040],[2009.62,0.024],[2009.63,0.018],[2009.65,0.033],[2009.66,0.042],[2009.68,0.029],[2009.69,0.037],
[2009.71,0.048],[2009.72,0.027],[2009.74,0.035],[2009.75,0.041],[2009.77,0.025],[2009.78,0.038],[2009.80,0.031],[2009.81,0.046],
[2009.83,0.028],[2009.84,0.036],[2009.86,0.043],[2009.87,0.032],[2009.89,0.024],[2009.90,0.040],[2009.92,0.034],[2009.93,0.047],
[2009.95,0.029],[2009.96,0.037],[2009.98,0.044],[2009.99,0.026],[2010.01,0.039],[2010.02,0.033],[2010.04,0.048],[2010.05,0.030],
[2010.07,0.041],[2010.08,0.025],[2010.10,0.036],[2010.11,0.045],[2010.13,0.031],[2010.14,0.038],[2010.16,0.027],[2010.17,0.043],
[2010.19,0.034],[2010.20,0.040],[2010.22,0.024],[2010.23,0.037],[2010.25,0.046],[2010.26,0.029],[2010.28,0.035],[2010.29,0.042],
[2010.31,0.026],[2010.32,0.038],[2010.34,0.031],[2010.35,0.044],[2010.37,0.028],[2010.38,0.036],[2010.40,0.022],[2010.41,0.040],
[2010.42,0.013],[2010.44,0.033],[2010.45,0.025],[2010.47,0.013],[2010.48,0.038],[2010.50,0.029],[2010.51,0.034],
[2010.73,0.030],[2010.75,0.022],[2010.76,0.036],[2010.78,0.027],[2010.80,0.040],[2010.81,0.025],[2010.83,0.033],[2010.85,0.020],
[2010.86,0.038],[2010.88,0.028],[2010.89,0.035],[2010.91,0.023]];
const ib2Banc2 = [
[2004.40,0.025],[2004.42,0.040],[2004.43,0.018],[2004.45,0.032],[2004.47,0.022],[2004.48,0.036],[2004.50,0.028],[2004.52,0.041],
[2004.53,0.030],[2004.55,0.047],[2004.57,0.035],[2004.58,0.043],[2004.60,0.031],[2004.61,0.053],[2004.63,0.038],[2004.65,0.046],
[2004.66,0.033],[2004.68,0.050],[2004.70,0.040],[2004.71,0.055],[2004.72,0.068],[2004.73,0.036],[2004.75,0.044],[2004.77,0.030],
[2004.78,0.038],[2004.80,0.026],[2004.82,0.033],[2004.83,0.021],[2004.85,0.027],[2004.86,0.018],[2004.88,0.024],[2004.90,0.015],
[2004.91,0.022],[2004.93,0.017],[2004.95,0.050],
[2005.49,0.028],[2005.51,0.020],[2005.52,0.035],[2005.54,0.024],[2005.55,0.061],[2005.56,0.030],[2005.58,0.018],[2005.59,0.027],
[2005.61,0.033],[2005.62,0.022],[2005.63,0.003],[2005.65,0.029],[2005.66,0.019],[2005.68,0.034],[2005.69,0.025],[2005.71,0.016],
[2005.72,0.030],[2005.74,0.021],[2005.75,0.036],[2005.77,0.026],[2005.78,0.018],[2005.80,0.031],[2005.81,0.024],[2005.83,0.037],
[2005.84,0.020],[2005.86,0.028],[2005.87,0.033],[2005.89,0.017],[2005.90,0.027],[2005.92,0.022],[2005.93,0.035],[2005.95,0.025],
[2005.96,0.030],[2005.98,0.019],[2005.99,0.038],[2006.01,0.026],[2006.02,0.032],[2006.04,0.023],[2006.05,0.041],[2006.07,0.029],
[2006.08,0.035],[2006.10,0.024],[2006.12,0.059],[2006.13,0.031],[2006.15,0.044],[2006.16,0.027],[2006.18,0.037],[2006.19,0.047],
[2006.21,0.033],[2006.22,0.040],[2006.24,0.071],[2006.25,0.036],[2006.27,0.050],[2006.28,0.030],[2006.30,0.043],[2006.31,0.055],
[2006.33,0.034],[2006.34,0.046],[2006.36,0.038],[2006.37,0.052],[2006.39,0.031],[2006.40,0.044],[2006.42,0.057],[2006.43,0.036],
[2006.45,0.048],[2006.46,0.029],[2006.48,0.041],[2006.49,0.053],[2006.51,0.035],[2006.52,0.105],[2006.53,0.045],[2006.55,0.032],
[2006.56,0.050],[2006.58,0.038],[2006.59,0.027],[2006.61,0.044],[2006.62,0.055],[2006.64,0.033],[2006.65,0.041],[2006.67,0.028],
[2006.68,0.047],[2006.70,0.036],[2006.71,0.024],[2006.73,0.039],[2006.74,0.050],[2006.76,0.030],[2006.77,0.037],[2006.79,0.022],
[2006.80,0.034],[2006.82,0.027],[2006.84,0.059],[2006.85,0.031],[2006.87,0.020],[2006.88,0.028],[2006.90,0.018],[2006.91,0.025],
[2006.93,0.016],[2006.94,0.023],[2006.96,0.019],[2006.97,0.027],[2006.99,0.015],[2007.00,0.022],[2007.02,0.018],[2007.03,0.026],
[2007.05,0.016],[2007.06,0.021],[2007.08,0.019],[2007.09,0.024],[2007.11,0.017],[2007.12,0.022],
[2007.53,0.018],[2008.32,0.260],[2008.56,0.022],[2008.67,0.016],[2008.71,0.083],[2008.74,0.030],[2008.78,0.020],[2008.84,0.035],
[2008.86,0.025],[2008.88,0.014],[2008.90,0.030],[2008.92,0.019],[2008.94,0.028],[2008.96,0.015],[2009.00,0.018],
[2010.52,0.030],[2010.53,0.022],[2010.55,0.035],[2010.56,0.018],[2010.58,0.027],[2010.59,0.033],[2010.61,0.020],[2010.62,0.029],
[2010.64,0.067],[2010.65,0.024],[2010.67,0.015],[2010.68,0.031],[2010.70,0.021],[2010.71,0.026],[2010.72,0.017],[2010.74,0.028],
[2010.76,0.019],[2010.78,0.025],[2010.80,0.047],[2010.82,0.021],[2010.84,0.016],[2010.86,0.027],[2010.88,0.014],[2010.91,0.018]];
const ib2Smooth = [[2002.63,0.012],[2003.2,0.0115],[2003.87,0.011],[2004.33,0.0147],[2004.53,0.018],[2005.07,0.019],[2005.53,0.022],
[2005.80,0.027],[2006.27,0.030],[2006.73,0.031],[2007.13,0.031],[2007.73,0.034],[2008.07,0.033],[2008.5,0.030],[2008.9,0.029],
[2009.40,0.031],[2009.93,0.035],[2010.40,0.033],[2010.87,0.029]];

// ---------------- DRAWING ----------------
const svg = d3.select("#c");
const P = {};

function addClip(id, b) {
  svg.append("clipPath").attr("id", id).append("rect")
    .attr("x", b[0]).attr("y", b[1]).attr("width", b[2] - b[0]).attr("height", b[3] - b[1]);
}
function rotText(g, x, y, txt, size, weight, fill) {
  g.append("text").attr("transform", `translate(${x},${y}) rotate(-90)`)
    .attr("text-anchor", "middle").attr("dy", "0.36em")
    .attr("font-size", size).attr("font-weight", weight || "normal").attr("fill", fill || "#222").text(txt);
}

// ---- Top-left ozone response panel ----
(function () {
  const box = [132.5, 63.3, 947, 392.7];
  const x = d3.scaleLinear().domain([0, 2500]).range([163.75, 939.4]);
  const y = d3.scaleLog().domain([0.1, 100]).range([381, 103.35]);
  P.TL = { x, y };
  addClip("clipTL", box);
  const g = svg.append("g");
  g.selectAll(null).data(timeTicks).join("line")
    .attr("x1", d => x(d)).attr("x2", d => x(d)).attr("y1", box[1]).attr("y2", box[3])
    .attr("stroke", "#cdcdcd").attr("stroke-width", 1.4).attr("stroke-dasharray", "4,4");
  g.selectAll(null).data(o3Grid).join("line")
    .attr("y1", d => y(d)).attr("y2", d => y(d)).attr("x1", box[0]).attr("x2", box[2])
    .attr("stroke", "#cdcdcd").attr("stroke-width", 1.4).attr("stroke-dasharray", "4,4");
  const pl = g.append("g").attr("clip-path", "url(#clipTL)");
  const line = d3.line().x(d => x(d[0])).y(d => y(d[1]));
  const curves = [
    [recycledSonde, "#ee1111", 1.6], [newSonde, "#1a1ae0", 1.6], [purpleRun, "#7b2d9c", 1.3],
    [greenRun, "#22b022", 1.4], [greenBits[0], "#22b022", 1.4], [greenBits[1], "#22b022", 1.4],
    [blackRun, "#111", 1.4], [blackBits[0], "#111", 1.6], [blackBits[1], "#111", 1.6],
    [blackBits[2], "#111", 1.6], [blackBits[3], "#111", 2.5]
  ];
  curves.forEach(([d, c, w]) => pl.append("path").attr("d", line(d)).attr("fill", "none")
    .attr("stroke", c).attr("stroke-width", w).attr("stroke-linejoin", "round"));
  g.append("rect").attr("x", box[0]).attr("y", box[1]).attr("width", box[2] - box[0]).attr("height", box[3] - box[1])
    .attr("fill", "none").attr("stroke", "#333").attr("stroke-width", 2.4);
  g.selectAll(null).data(timeTicks).join("line")
    .attr("x1", d => x(d)).attr("x2", d => x(d)).attr("y1", box[3]).attr("y2", box[3] + 17)
    .attr("stroke", "#333").attr("stroke-width", 2);
  g.selectAll(null).data(timeTicks).join("text")
    .attr("x", d => x(d)).attr("y", 450).attr("text-anchor", "middle").attr("font-size", 24).attr("fill", "#222")
    .text((d, i) => timeTickLabels[i]);
  g.append("text").attr("x", 539).attr("y", 512).attr("text-anchor", "middle").attr("font-size", 23).attr("fill", "#333").text("Time [s]");
  g.selectAll(null).data(o3Ticks).join("line")
    .attr("y1", d => y(d)).attr("y2", d => y(d)).attr("x1", box[0] - 17).attr("x2", box[0])
    .attr("stroke", "#333").attr("stroke-width", 2);
  o3Ticks.forEach((d, i) => rotText(g, 88, y(d), o3TickLabels[i], 23, "normal", "#222"));
  rotText(g, 28, 227, "O3 [nb]", 24, "normal", "#333");
  g.append("text").attr("x", 782).attr("y", 120).attr("text-anchor", "middle").attr("font-size", 34)
    .attr("font-weight", "bold").attr("fill", "#e8202a").text("Recycled sonde");
  g.append("text").attr("x", 782).attr("y", 178).attr("text-anchor", "middle").attr("font-size", 34)
    .attr("font-weight", "bold").attr("fill", "#1a1ad0").text("New sonde");
})();

// ---- generic station panel ----
const starPath = "M-3.6,0H3.6M0,-3.6V3.6M-2.6,-2.6L2.6,2.6M-2.6,2.6L2.6,-2.6";
function stationPanel(o) {
  const x = d3.scaleLinear().domain([2004, 2010]).range(o.xr);
  const y = d3.scaleLinear().domain(o.yd).range(o.yr);
  P[o.id] = { x, y };
  const b = o.box;
  addClip("clip" + o.id, b);
  const g = svg.append("g");
  const pl = g.append("g").attr("clip-path", `url(#clip${o.id})`);
  const all = d3.sort(o.b1.concat(o.b2), d => d[0]);
  pl.append("path").attr("d", d3.line().x(d => x(d[0])).y(d => y(d[1]))(all))
    .attr("fill", "none").attr("stroke", "#111").attr("stroke-width", 0.75);
  pl.selectAll(null).data(o.b2).join("path")
    .attr("transform", d => `translate(${x(d[0])},${y(d[1])})`).attr("d", starPath)
    .attr("fill", "none").attr("stroke", "#111").attr("stroke-width", 0.9);
  pl.selectAll(null).data(o.b1).join("rect")
    .attr("x", d => x(d[0]) - 3.7).attr("y", d => y(d[1]) - 3.5).attr("width", 7.4).attr("height", 7)
    .attr("fill", "#ff0000");
  pl.append("path").attr("d", d3.line().curve(d3.curveBasis).x(d => x(d[0])).y(d => y(d[1]))(o.smooth))
    .attr("fill", "none").attr("stroke", "#2fb52f").attr("stroke-width", 1.3);
  pl.selectAll(null).data(gridYears).join("line")
    .attr("x1", d => x(d)).attr("x2", d => x(d)).attr("y1", b[1]).attr("y2", b[3])
    .attr("stroke", "#d3d3d3").attr("stroke-width", 3);
  pl.selectAll(null).data(o.ticks).join("line")
    .attr("y1", d => y(d)).attr("y2", d => y(d)).attr("x1", b[0]).attr("x2", b[2])
    .attr("stroke", "#d3d3d3").attr("stroke-width", 3);
  g.append("rect").attr("x", b[0]).attr("y", b[1]).attr("width", b[2] - b[0]).attr("height", b[3] - b[1])
    .attr("fill", "none").attr("stroke", "#555").attr("stroke-width", 1.4);
  g.selectAll(null).data(yearTicks).join("line")
    .attr("x1", d => x(d)).attr("x2", d => x(d)).attr("y1", b[3]).attr("y2", b[3] + 7)
    .attr("stroke", "#333").attr("stroke-width", 1);
  g.selectAll(null).data(yearTicks).join("text")
    .attr("x", d => x(d)).attr("y", o.xLabelY).attr("text-anchor", "middle").attr("font-size", 13).attr("fill", "#222")
    .text((d, i) => yearTickLabels[i]);
  g.selectAll(null).data(o.ticks).join("line")
    .attr("y1", d => y(d)).attr("y2", d => y(d)).attr("x1", b[0] - 6).attr("x2", b[0])
    .attr("stroke", "#333").attr("stroke-width", 1);
  o.ticks.forEach((d, i) => rotText(g, o.yLabelX, y(d), o.tickLabels[i], 11.5, "normal", "#222"));
  if (o.ytitle) rotText(g, o.ytitle[0], o.ytitle[1], "I[uA]", 11.5, "bold", "#111");
  g.append("text").attr("x", o.title[0]).attr("y", o.title[1]).attr("text-anchor", "middle")
    .attr("font-size", o.title[3]).attr("font-weight", "bold").attr("fill", "#111").text(o.title[2]);
  const L = o.legend;
  g.append("rect").attr("x", L[0]).attr("y", L[1]).attr("width", 70).attr("height", 45.5)
    .attr("fill", "none").attr("stroke", "#444").attr("stroke-width", 1);
  g.append("rect").attr("x", L[0] + 7).attr("y", L[1] + 11.5).attr("width", 7.4).attr("height", 7).attr("fill", "#ff0000");
  g.append("path").attr("transform", `translate(${L[0] + 10.7},${L[1] + 30.5})`).attr("d", starPath)
    .attr("fill", "none").attr("stroke", "#111").attr("stroke-width", 0.9);
  g.append("text").attr("x", L[0] + 28).attr("y", L[1] + 15).attr("dy", "0.35em").attr("font-size", 12.5).attr("fill", "#222").text("Banc1");
  g.append("text").attr("x", L[0] + 28).attr("y", L[1] + 30.5).attr("dy", "0.35em").attr("font-size", 12.5).attr("fill", "#222").text("Banc2");
}

stationPanel({
  id: "CAL", box: [1092.7, 45.5, 1864, 506], xr: [1236.7, 1758.3], yd: [0.95, 1.10], yr: [489, 134.1],
  b1: calibBanc1, b2: calibBanc2, smooth: calibSmooth, ticks: calibTicks, tickLabels: calibTickLabels,
  xLabelY: 535, yLabelX: 1069, title: [1478.5, 19, "Calibration slope", 14.5], legend: [1139.3, 135]
});
stationPanel({
  id: "IB1", box: [103.8, 610.4, 868.7, 1067.2], xr: [247.5, 768.2], yd: [-0.05, 0.20], yr: [1009, 668.3],
  b1: ib1Banc1, b2: ib1Banc2, smooth: ib1Smooth, ticks: ib1Ticks, tickLabels: ib1TickLabels,
  xLabelY: 1095.5, yLabelX: 81.4, ytitle: [50.5, 838.7], title: [486.8, 584, "Background Current (Ib1)", 15], legend: [149.3, 669.3]
});
stationPanel({
  id: "IB2", box: [1098.8, 610, 1865, 1069.7], xr: [1243.4, 1763.9], yd: [0, 0.25], yr: [1052.4, 643.2],
  b1: ib2Banc1, b2: ib2Banc2, smooth: ib2Smooth, ticks: ib2Ticks, tickLabels: ib2TickLabels,
  xLabelY: 1098.5, yLabelX: 1075.7, ytitle: [1045.6, 840.4], title: [1485, 583, "Background Current (Ib2)", 15], legend: [1145, 644]
});

// ---- annotations (in each panel's own data coordinates) ----
const connectors = [
  { a: ["TL", 1180, 211], b: ["CAL", 2005.12, 1.12] },
  { a: ["TL", 423, 0.43], b: ["IB1", 2006.754, 0.2756] },
  { a: ["TL", 2389, 0.72], b: ["IB2", 2004.02, 0.1942] }
];
const spans = [
  { panel: "CAL", at: 2002.527, lo: 1.00, hi: 1.05, label: "5%", size: 41, dx: -80.6, dy: 14.5 },
  { panel: "IB2", at: 2002.48, lo: 0.05, hi: 0.10, label: "1.8 nb", size: 42, dx: -137, dy: 13 }
];
const ga = svg.append("g");
const pt = (p) => [P[p[0]].x(p[1]), P[p[0]].y(p[2])];
connectors.forEach(c => {
  const A = pt(c.a), B = pt(c.b);
  ga.append("line").attr("x1", A[0]).attr("y1", A[1]).attr("x2", B[0]).attr("y2", B[1])
    .attr("stroke", "#000").attr("stroke-width", 3.5);
  [A, B].forEach(q => ga.append("circle").attr("cx", q[0]).attr("cy", q[1]).attr("r", 7.5).attr("fill", "#000"));
});
spans.forEach(s => {
  const sx = P[s.panel].x(s.at), y1 = P[s.panel].y(s.hi), y2 = P[s.panel].y(s.lo);
  ga.append("line").attr("x1", sx).attr("x2", sx).attr("y1", y1 + 12).attr("y2", y2 - 12)
    .attr("stroke", "#000").attr("stroke-width", 3);
  ga.append("path").attr("d", `M${sx},${y1}L${sx - 8},${y1 + 17}L${sx + 8},${y1 + 17}Z`).attr("fill", "#000");
  ga.append("path").attr("d", `M${sx},${y2}L${sx - 8},${y2 - 17}L${sx + 8},${y2 - 17}Z`).attr("fill", "#000");
  ga.append("text").attr("x", sx + s.dx).attr("y", (y1 + y2) / 2 + s.dy).attr("font-size", s.size).attr("fill", "#000").text(s.label);
});
</script></body></html>
